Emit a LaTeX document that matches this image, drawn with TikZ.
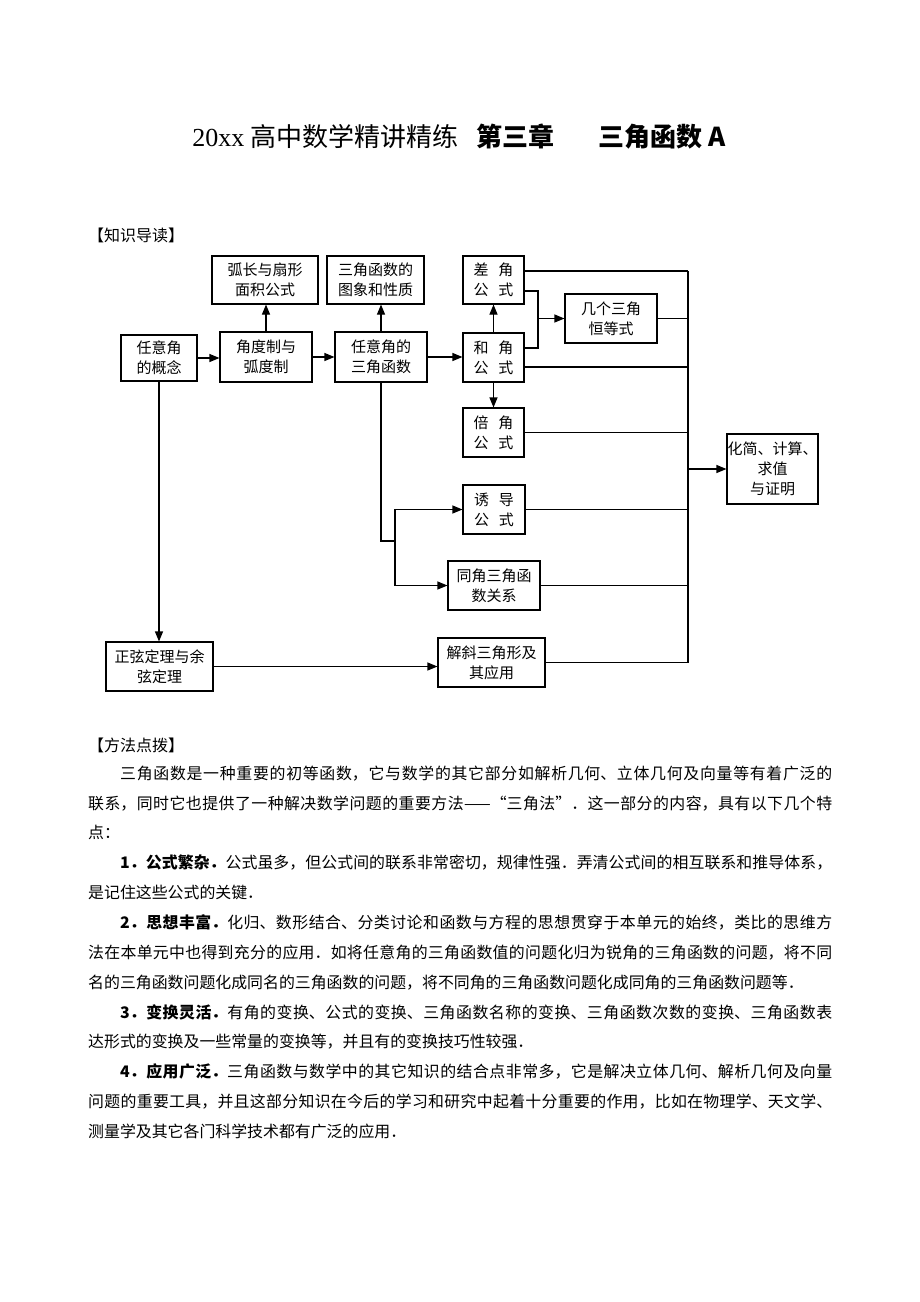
\documentclass[tikz,border=0pt]{standalone}
\usepackage{fontspec}
\setmainfont{Noto Sans CJK SC}
\newfontfamily\titlenum{Liberation Serif}
\usetikzlibrary{arrows.meta, positioning}
\XeTeXlinebreaklocale "zh"
\XeTeXlinebreakskip=0pt plus 1pt minus 0.2pt
\newcommand{\jiange}{\hspace{0.65em}}

\begin{document}
\begin{tikzpicture}[x=1pt, y=-1pt,
				box/.style={draw, line width=1.1pt, inner sep=0pt, align=center, font=\fontsize{15}{20}\selectfont},
				arrowstyle/.style={-{Triangle[length=10pt,width=8pt]}, line width=1.1pt},
				linestyle/.style={line width=1.1pt},
				heading/.style={anchor=west, inner sep=0pt, font=\fontsize{16}{20}\selectfont},
				para/.style={anchor=north west, inner sep=0pt, text width=744pt, align=justify, font=\fontsize{15.9}{29.8}\selectfont}
			]
			\useasboundingbox (0,0) rectangle (920,1302);

			% --- Title and headings ---
			\node[inner sep=0pt, font=\fontsize{26}{30}\selectfont] (title) at (459,137) {{\titlenum 20xx} 高中数学精讲精练\hspace{0.7em}{\bfseries 第三章\hspace{1.7em}三角函数 A}};
			\node[heading] (zhishi) at (88,235) {【知识导读】};

			% --- Top row (y = 280) ---
			\node[box, minimum width=106pt, minimum height=48pt] (hu) at (265,280) {弧长与扇形\\面积公式};
			\node[box, minimum width=97pt, minimum height=48pt] (tuxiang) at (375.5,280) {三角函数的\\图象和性质};
			\node[box, minimum width=61pt, minimum height=48pt] (cha) at (493.5,280) {差\jiange 角\\公\jiange 式};

			% --- Main row (y = 357) ---
			\node[box, minimum width=76pt, minimum height=46pt] (gainian) at (159,358) {任意角\\的概念};
			\node[box, minimum width=92pt, minimum height=50pt] (dufz) at (266,357) {角度制与\\弧度制};
			\node[box, minimum width=92pt, minimum height=50pt] (renyi) at (381,357) {任意角的\\三角函数};
			\node[box, minimum width=61pt, minimum height=49pt] (he) at (493.5,357.5) {和\jiange 角\\公\jiange 式};
			\node[box, minimum width=92pt, minimum height=49pt] (hengdeng) at (611,318.5) {几个三角\\恒等式};

			% --- Formula column ---
			\node[box, minimum width=61pt, minimum height=49pt] (bei) at (493.5,432.5) {倍\jiange 角\\公\jiange 式};
			\node[box, minimum width=62pt, minimum height=49pt] (youdao) at (494,509.5) {诱\jiange 导\\公\jiange 式};
			\node[box, minimum width=92pt, minimum height=49pt] (tongjiao) at (494,585.5) {同角三角函\\数关系};
			\node[box, minimum width=91pt, minimum height=70pt] (huajian) at (772.5,469) {化简、计算、\\求值\\与证明};

			% --- Bottom row (y = 665) ---
			\node[box, minimum width=107pt, minimum height=49pt] (zhengxian) at (159.5,666.5) {正弦定理与余\\弦定理};
			\node[box, minimum width=107pt, minimum height=49pt] (jiexie) at (491.5,662.5) {解斜三角形及\\其应用};

			% --- Helper points ---
			\coordinate (fork) at (538,318.5);
			\coordinate (split) at (395,541);
			\coordinate (bus_top) at (688,271);
			\coordinate (he_out) at (688,367);
			\coordinate (bus_out) at (688,469);
			\coordinate (bus_bot) at (688,662.5);

			% --- Connections ---
			\draw[arrowstyle] (gainian.east) -- (gainian.east -| dufz.west);
			\draw[arrowstyle] (dufz.east) -- (renyi.west);
			\draw[arrowstyle] (renyi.east) -- (renyi.east -| he.west);
			\draw[arrowstyle] (dufz.north) -- (dufz.north |- hu.south);
			\draw[arrowstyle] (renyi.north) -- (renyi.north |- tuxiang.south);
			\draw[arrowstyle] (he.north) -- (cha.south);
			\draw[arrowstyle] (he.south) -- (bei.north);

			\draw[linestyle] ([yshift=-11pt]cha.east) -| (fork) |- ([yshift=9.5pt]he.east);
			\draw[arrowstyle] (fork) -- (hengdeng.west);

			\draw[linestyle] (renyi.south) |- (split);
			\draw[arrowstyle] (split) |- (youdao.west);
			\draw[arrowstyle] (split) |- (tongjiao.west);

			\draw[arrowstyle] (gainian.south) -- (gainian.south |- zhengxian.north);
			\draw[arrowstyle] (zhengxian.east) -- (zhengxian.east -| jiexie.west);

			% to the summary bus
			\draw[linestyle] (bus_top -| cha.east) -- (bus_top);
			\draw[linestyle] (hengdeng.east) -- (hengdeng.east -| bus_top);
			\draw[linestyle] (he_out -| he.east) -- (he_out);
			\draw[linestyle] (bei.east) -- (bei.east -| bus_top);
			\draw[linestyle] (youdao.east) -- (youdao.east -| bus_top);
			\draw[linestyle] (tongjiao.east) -- (tongjiao.east -| bus_top);
			\draw[linestyle] (jiexie.east) -- (bus_bot);
			\draw[linestyle] (bus_top) -- (bus_bot);
			\draw[arrowstyle] (bus_out) -- (huajian.west);

			% --- Method notes ---
			\node[heading] (fangfa) at (88,745) {【方法点拨】};
			\node[para] (p0) at (88,765.5) {\hspace*{32pt}三角函数是一种重要的初等函数，它与数学的其它部分如解析几何、立体几何及向量等有着广泛的\linebreak 联系，同时它也提供了一种解决数学问题的重要方法——“三角法”．这一部分的内容，具有以下几个特\linebreak 点：};
			\node[para] (p1) at (88,854.5) {\hspace*{32pt}{\bfseries 1．公式繁杂．}公式虽多，但公式间的联系非常密切，规律性强．弄清公式间的相互联系和推导体系，\linebreak 是记住这些公式的关键．};
			\node[para] (p2) at (88,914.5) {\hspace*{32pt}{\bfseries 2．思想丰富．}化归、数形结合、分类讨论和函数与方程的思想贯穿于本单元的始终，类比的思维方\linebreak 法在本单元中也得到充分的应用．如将任意角的三角函数值的问题化归为锐角的三角函数的问题，将不同\linebreak 名的三角函数问题化成同名的三角函数的问题，将不同角的三角函数问题化成同角的三角函数问题等．};
			\node[para] (p3) at (88,1004) {\hspace*{32pt}{\bfseries 3．变换灵活．}有角的变换、公式的变换、三角函数名称的变换、三角函数次数的变换、三角函数表\linebreak 达形式的变换及一些常量的变换等，并且有的变换技巧性较强．};
			\node[para] (p4) at (88,1063.5) {\hspace*{32pt}{\bfseries 4．应用广泛．}三角函数与数学中的其它知识的结合点非常多，它是解决立体几何、解析几何及向量\linebreak 问题的重要工具，并且这部分知识在今后的学习和研究中起着十分重要的作用，比如在物理学、天文学、\linebreak 测量学及其它各门科学技术都有广泛的应用．};

		\end{tikzpicture}
\end{document}
